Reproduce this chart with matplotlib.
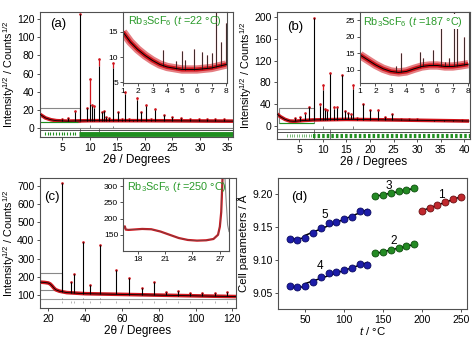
import numpy as np
import matplotlib
matplotlib.use("Agg")
import matplotlib.pyplot as plt
from matplotlib.patches import Rectangle

plt.rcParams["font.family"] = ["Liberation Sans", "DejaVu Sans"]
plt.rcParams["mathtext.fontset"] = "custom"
plt.rcParams["mathtext.rm"] = "Liberation Sans"
plt.rcParams["mathtext.it"] = "Liberation Sans:italic"
plt.rcParams["mathtext.default"] = "regular"

RED = "#d0141c"
GREEN = "#1f8f1f"
TXT_GREEN = "#2a9a2a"
FRAME = "#505050"

# ---- (a) t = 22 C ----
a_bg_x = [1, 2, 3, 4, 6, 10, 20, 36]
a_bg_y = [15, 11, 9, 8, 7.5, 8, 8, 7.5]
a_pk_x = [5.0, 6.1, 7.3, 8.2, 9.6, 10.06, 10.5, 10.8, 11.7, 12.2, 12.6, 13.0, 13.5,
          14.3, 15.2, 15.8, 16.5, 17.2, 17.9, 18.6, 19.4, 20.2, 21.1, 21.8, 23.4,
          25.0, 26.6, 28.2, 29.8, 31.3, 32.8, 34.3]
a_pk_obs = [10, 11, 19, 126, 22.5, 54, 25, 24, 76, 18, 19, 12, 11,
            72, 18, 10, 40, 10, 8.5, 33, 18, 25, 10, 21, 14,
            12, 11, 10, 10, 10, 9.5, 9.5]
a_pk_calc = [10, 11, 18, 126, 22, 26, 24, 22, 68, 18, 19, 12, 11,
             66, 18, 10, 38, 10, 8.5, 31, 18, 24, 10, 20, 14,
             12, 11, 10, 10, 10, 9.5, 9.5]
a_diff_x = [8.2, 10.06, 11.7, 14.3]
a_diff_y = [-9, 3, -8, 2]
a_ref_x = [1.9, 2.4, 2.9, 3.4, 3.9, 4.4, 4.9, 5.4, 5.9, 6.4, 6.9, 7.4]

# inset (a)
ia_bg_x = [1, 1.5, 2, 2.5, 3, 3.5, 4, 5, 6, 7, 8]
ia_bg_y = [15, 13, 11.5, 10.3, 9.3, 8.5, 8, 7.5, 7.5, 7.8, 8.5]
ia_pk_x = [3.72, 4.6, 4.98, 5.2, 5.8, 6.37, 6.72, 7.06, 7.29, 7.65, 7.98]
ia_pk_y = [11.5, 9.2, 11.2, 9.5, 11.6, 11.1, 10.5, 10.8, 20, 13, 16.8]

# ---- (b) t = 187 C ----
b_bg_x = [0.3, 1, 2, 3, 4, 6, 8, 15, 25, 41]
b_bg_y = [22, 17, 12, 9, 8.5, 10, 11, 12, 11, 9]
b_pk_x = [4.1, 5.2, 6.3, 7.1, 8.06, 9.5, 10.0, 10.4, 10.9, 11.6, 12.3, 13.0,
          14.1, 14.8, 15.4, 15.9, 16.4, 17.3, 18.5, 20.1, 21.7, 23.1, 24.7,
          26.5, 28.3, 30.0, 31.8, 33.6, 35.7, 37.5, 39.6]
b_pk_obs = [14, 17, 23, 35, 198, 41, 75, 31, 29, 97, 35, 35,
            94, 28, 24, 21, 75, 15, 41, 30, 29, 17, 21,
            13, 12, 12, 11, 11, 10, 10, 10]
b_pk_calc = [14, 17, 22, 34, 198, 36, 66, 30, 28, 95, 31, 33,
             94, 27, 23, 20, 68, 15, 40, 30, 28, 17, 21,
             13, 12, 12, 11, 11, 10, 10, 10]
b_diff_x = [8.06, 10.0, 11.6, 16.4]
b_diff_y = [-22, 6, -20, 5]
b_ref_x = [2.5, 3.0, 3.5, 4.0, 4.5, 5.0, 5.5, 6.0, 6.5, 7.0, 7.5]

# inset (b)
ib_bg_x = [1, 1.5, 2, 2.5, 3, 3.5, 4, 4.5, 5, 5.5, 6, 6.5, 7, 7.5, 8]
ib_bg_y = [14.5, 13, 11.5, 10.3, 9.5, 9.2, 9.5, 10.3, 11, 11.3, 11.3, 11, 11, 11.3, 11.7]
ib_pk_x = [3.35, 3.63, 4.9, 5.1, 5.7, 6.25, 6.5, 6.75, 7.1, 7.3, 7.75]
ib_pk_y = [11, 15, 15.5, 13.5, 16, 24, 12.5, 13.5, 28, 24.5, 20]

# ---- (c) t = 250 C ----
c_bg_x = [15.5, 18, 20, 21, 22, 23, 24, 26, 27, 30, 40, 60, 80, 100, 122]
c_bg_y = [170, 168, 165, 160, 150, 138, 128, 120, 118, 112, 106, 102, 98, 94, 90]
c_pk_x = [27.4, 32.3, 33.8, 38.9, 42.9, 48.1, 56.7, 64.0, 70.8, 77.4, 84.2, 90.7,
          97.1, 103.5, 110.5, 117.2]
c_pk_obs = [715, 173, 214, 393, 155, 375, 237, 192, 137, 170, 118, 122,
            111, 110, 108, 118]
c_diff_x = [27.4, 38.9, 48.1, 70.8]
c_diff_y = [8, 5, 5, 4]

# inset (c)
ic_obs_x = [16.4, 16.6, 16.7, 17, 18, 18.5, 19.5, 20.5, 21.5, 22.5, 23.5, 24.5,
            25.5, 26.3, 26.8, 27.0, 27.15, 27.3]
ic_obs_y = [170, 176, 166, 165, 167, 168, 167, 160, 150, 140, 134, 132,
            133, 137, 150, 175, 220, 330]
ic_calc_x = [27.3, 27.55, 27.7, 27.85, 28.0]
ic_calc_y = [330, 330, 250, 180, 160]

# ---- (d) cell parameters ----
t_low = [30, 40, 50, 60, 70, 80, 90, 100, 110, 120, 130]
a_5 = [9.1315, 9.1305, 9.1335, 9.141, 9.1485, 9.155, 9.157, 9.162, 9.165, 9.1735, 9.1725]
a_4 = [9.0595, 9.058, 9.0595, 9.0665, 9.074, 9.079, 9.081, 9.0845, 9.087, 9.0935, 9.0915]
t_mid = [140, 150, 160, 170, 180, 190]
a_3 = [9.1965, 9.198, 9.201, 9.2035, 9.2055, 9.2085]
a_2 = [9.110, 9.1115, 9.114, 9.117, 9.120, 9.124]
t_high = [200, 210, 220, 230, 240, 250]
a_1 = [9.174, 9.1785, 9.183, 9.1875, 9.1915, 9.195]

YLAB = "Intensity$^{1/2}$ / Counts$^{1/2}$"


def style_axes(ax, size=7.5, length=2.5):
    for s in ax.spines.values():
        s.set_color(FRAME)
        s.set_linewidth(0.8)
    ax.tick_params(labelsize=size, length=length, width=0.7, direction="out",
                   color=FRAME, pad=1.5)


def draw_pattern(ax, bg_x, bg_y, pk_x, pk_obs, pk_calc):
    pk_base = np.interp(pk_x, bg_x, bg_y)
    ax.plot(bg_x, bg_y, color=RED, lw=2.6, solid_capstyle="butt", zorder=2)
    # observed excess over the calculated profile shows as red
    ax.vlines(pk_x, pk_calc, pk_obs, color=RED, lw=0.9, zorder=2)
    ax.plot(pk_x, pk_obs, ".", color=RED, ms=1.8, zorder=2)
    ax.vlines(pk_x, pk_base, pk_calc, color="black", lw=0.8, zorder=3)
    ax.plot(bg_x, bg_y, color="black", lw=0.6, zorder=3)


def draw_inset(ax, bg_x, bg_y, pk_x, pk_y):
    base = np.interp(pk_x, bg_x, bg_y)
    ax.plot(bg_x, bg_y, color=RED, lw=6, alpha=0.55, solid_capstyle="butt")
    ax.plot(bg_x, bg_y, color=RED, lw=3, solid_capstyle="butt")
    ax.vlines(pk_x, base, pk_y, color=RED, lw=0.9, alpha=0.7)
    ax.vlines(pk_x, base, pk_y, color="#222222", lw=0.6)
    ax.plot(bg_x, bg_y, color="black", lw=0.7)


fig = plt.figure(figsize=(4.74, 3.37), dpi=100)

# (a)
ax_a = fig.add_axes([0.0844, 0.5935, 0.4072, 0.3709])
draw_pattern(ax_a, a_bg_x, a_bg_y, a_pk_x, a_pk_obs, a_pk_calc)
ax_a.axhline(0, color="#888888", lw=0.8)
ax_a.vlines(a_diff_x, 0, a_diff_y, color="#777777", lw=0.7)
ax_a.axhline(-2.5, color="#333333", lw=0.6)
ax_a.vlines(a_ref_x, -8, -5, color=GREEN, lw=0.8)
ax_a.hlines(-6.5, 8, 36, color=GREEN, lw=3.5)
ax_a.add_patch(Rectangle((1, 6.8), 7.2, 14.8, fill=False, ec="#888888", lw=0.8))
ax_a.hlines(6.8, 1, 7.9, color=GREEN, lw=0.8)
ax_a.set_xlim(1, 36)
ax_a.set_ylim(-10, 128)
ax_a.set_xticks(range(5, 36, 5))
ax_a.set_yticks(range(0, 121, 20))
ax_a.set_xlabel("2θ / Degrees", fontsize=8.5, labelpad=1)
ax_a.set_ylabel(YLAB, fontsize=7.8, labelpad=0)
ax_a.text(0.093, 0.9, "(a)", transform=ax_a.transAxes, fontsize=9.5,
          ha="center", va="center")
style_axes(ax_a)

ins_a = fig.add_axes([0.2595, 0.7537, 0.2194, 0.2107])
draw_inset(ins_a, ia_bg_x, ia_bg_y, ia_pk_x, ia_pk_y)
ins_a.set_xlim(1, 8.05)
ins_a.set_ylim(4.8, 19)
ins_a.set_xticks(range(1, 9))
ins_a.set_yticks([5, 10, 15])
ins_a.text(0.05, 0.87, r"Rb$_3$ScF$_6$ ($\mathit{t}$ =22 °C)", transform=ins_a.transAxes,
           color=TXT_GREEN, fontsize=7.8, ha="left", va="center")
style_axes(ins_a, size=6, length=2)

# (b)
ax_b = fig.add_axes([0.5844, 0.5875, 0.4072, 0.3769])
draw_pattern(ax_b, b_bg_x, b_bg_y, b_pk_x, b_pk_obs, b_pk_calc)
ax_b.axhline(-5.5, color="#888888", lw=0.8)
ax_b.vlines(b_diff_x, -5.5, np.array(b_diff_y) - 5.5, color="#777777", lw=0.7)
ax_b.axhline(-10.5, color="#333333", lw=0.6)
ax_b.vlines(b_ref_x, -20, -15.5, color=GREEN, lw=0.6, alpha=0.7)
ax_b.hlines(-17.8, 8, 41.2, color=GREEN, lw=3, linestyles=(0, (0.6, 0.5)))
ax_b.add_patch(Rectangle((0.8, 6), 7.3, 26.5, fill=False, ec="#888888", lw=0.8))
ax_b.hlines(6, 0.8, 8.1, color=GREEN, lw=0.8)
ax_b.set_xlim(0.3, 41.2)
ax_b.set_ylim(-24, 209)
ax_b.set_xticks(range(5, 41, 5))
ax_b.set_yticks(range(0, 201, 40))
ax_b.set_xlabel("2θ / Degrees", fontsize=8.5, labelpad=1)
ax_b.set_ylabel(YLAB, fontsize=7.8, labelpad=0)
ax_b.text(0.095, 0.885, "(b)", transform=ax_b.transAxes, fontsize=9.5,
          ha="center", va="center")
style_axes(ax_b)

ins_b = fig.add_axes([0.7595, 0.7537, 0.23, 0.2107])
draw_inset(ins_b, ib_bg_x, ib_bg_y, ib_pk_x, ib_pk_y)
ins_b.set_xlim(1, 8.05)
ins_b.set_ylim(6, 27.5)
ins_b.set_xticks(range(1, 9))
ins_b.set_yticks([10, 15, 20, 25])
ins_b.text(0.03, 0.865, r"Rb$_3$ScF$_6$ ($\mathit{t}$ =187 °C)", transform=ins_b.transAxes,
           color=TXT_GREEN, fontsize=7.8, ha="left", va="center",
           bbox=dict(fc="white", ec="none", pad=0.5))
style_axes(ins_b, size=6, length=2)

# (c)
ax_c = fig.add_axes([0.0844, 0.0861, 0.4135, 0.3858])
draw_pattern(ax_c, c_bg_x, c_bg_y, c_pk_x, c_pk_obs, c_pk_obs)
ax_c.axhline(75, color="#999999", lw=0.8)
ax_c.vlines(c_diff_x, 75, np.array(c_diff_y) + 75, color="#777777", lw=0.7)
ax_c.vlines(c_pk_x, 55, 65, color="#aaaaaa", lw=0.6)
ax_c.add_patch(Rectangle((15.6, 127), 11.8, 92, fill=False, ec="#888888", lw=0.8))
ax_c.set_xlim(15.5, 122)
ax_c.set_ylim(27, 745)
ax_c.set_xticks(range(20, 121, 20))
ax_c.set_yticks(range(100, 701, 100))
ax_c.set_xlabel("2θ / Degrees", fontsize=8.5, labelpad=1)
ax_c.set_ylabel(YLAB, fontsize=7.8, labelpad=0)
ax_c.text(0.06, 0.856, "(c)", transform=ax_c.transAxes, fontsize=9.5,
          ha="center", va="center")
style_axes(ax_c)

ins_c = fig.add_axes([0.2595, 0.2552, 0.2236, 0.2166])
ins_c.plot(ic_calc_x, ic_calc_y, color="#888888", lw=0.8)
ins_c.plot(ic_obs_x, ic_obs_y, color=RED, lw=1.6)
ins_c.plot(ic_obs_x, ic_obs_y, color="#555555", lw=0.4)
ins_c.set_xlim(16.4, 28)
ins_c.set_ylim(100, 325)
ins_c.set_xticks([18, 21, 24, 27])
ins_c.set_yticks([150, 200, 250, 300])
ins_c.text(0.035, 0.877, r"Rb$_3$ScF$_6$ ($\mathit{t}$ =250 °C)", transform=ins_c.transAxes,
           color=TXT_GREEN, fontsize=7.8, ha="left", va="center")
style_axes(ins_c, size=6, length=2)

# (d)
ax_d = fig.add_axes([0.5865, 0.0831, 0.3987, 0.3887])
series = [
    (t_low, a_5, "#1c1ca8", "#0a0a60"),
    (t_low, a_4, "#1c1ca8", "#0a0a60"),
    (t_mid, a_3, "#238a23", "#0d4d0d"),
    (t_mid, a_2, "#238a23", "#0d4d0d"),
    (t_high, a_1, "#c0282d", "#6a0f12"),
]
for t, a, fc, ec in series:
    t = np.array(t)
    a = np.array(a)
    if len(t) > 6:
        # two linear regimes below and above 50 C
        for sel in (t <= 50, t >= 50):
            k, b = np.polyfit(t[sel], a[sel], 1)
            ax_d.plot(t[sel][[0, -1]], k * t[sel][[0, -1]] + b, color="black", lw=1.1, zorder=2)
    else:
        k, b = np.polyfit(t, a, 1)
        ax_d.plot(t[[0, -1]], k * t[[0, -1]] + b, color="black", lw=1.1, zorder=2)
    ax_d.plot(t, a, "o", ms=5, mfc=fc, mec=ec, mew=0.6, zorder=3)

for lab, tx, ty in [("5", 75, 9.1675), ("4", 69, 9.09), ("3", 157, 9.2125),
                    ("2", 164, 9.1285), ("1", 225, 9.1985)]:
    ax_d.text(tx, ty, lab, fontsize=8.5, ha="center", va="center")
ax_d.set_xlim(15, 258)
ax_d.set_ylim(9.025, 9.224)
ax_d.set_xticks(range(50, 251, 50))
ax_d.set_yticks([9.05, 9.10, 9.15, 9.20])
ax_d.yaxis.set_major_formatter(plt.FormatStrFormatter("%.2f"))
ax_d.set_xlabel(r"$\mathit{t}$ / °C", fontsize=8.2, labelpad=0)
ax_d.set_ylabel("Cell parameters / Å", fontsize=8.2, labelpad=2)
ax_d.text(0.11, 0.853, "(d)", transform=ax_d.transAxes, fontsize=9.5,
          ha="center", va="center")
style_axes(ax_d)

fig.savefig("out.png", dpi=100)
